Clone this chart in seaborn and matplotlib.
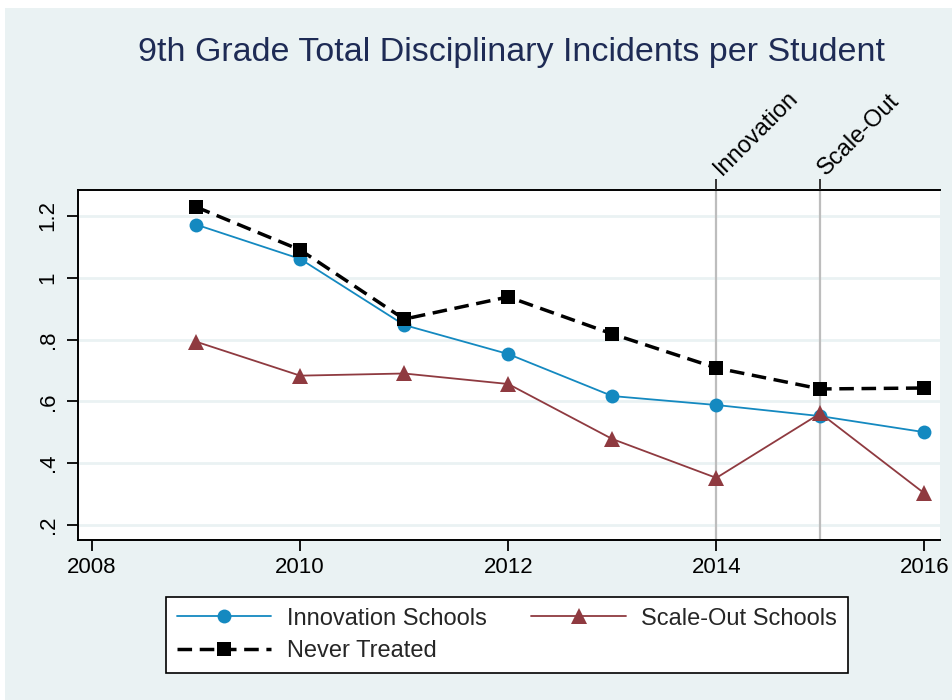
import matplotlib
matplotlib.use("Agg")
import matplotlib.pyplot as plt
import seaborn as sns
import pandas as pd
from matplotlib.patches import Rectangle

# === DATA ===
years = [2009, 2010, 2011, 2012, 2013, 2014, 2015, 2016]
innovation = [1.172, 1.061, 0.847, 0.753, 0.617, 0.588, 0.552, 0.500]
scale_out = [0.793, 0.683, 0.690, 0.656, 0.478, 0.352, 0.561, 0.302]
never_treated = [1.229, 1.090, 0.866, 0.938, 0.818, 0.708, 0.640, 0.643]

event_years = [2014, 2015]
event_labels = ["Innovation", "Scale-Out"]
x_ticks = [2008, 2010, 2012, 2014, 2016]
y_ticks = [0.2, 0.4, 0.6, 0.8, 1.0, 1.2]
y_ticklabels = [".2", ".4", ".6", ".8", "1", "1.2"]

title = "9th Grade Total Disciplinary Incidents per Student"

# === STYLE ===
sns.set_style("white")
plt.rcParams["font.family"] = ["Liberation Sans", "DejaVu Sans"]

panel = "#EAF2F3"
blue = "#1489C0"
red = "#8F3A40"

fig = plt.figure(figsize=(9.52, 7.0), dpi=100)
fig.patch.set_facecolor("white")
bg = Rectangle((5 / 952, 0), 1, 692 / 700, transform=fig.transFigure,
               facecolor=panel, edgecolor="none", zorder=-10)
fig.add_artist(bg)

ax = fig.add_axes([78 / 952, 1 - 540 / 700, (940 - 78) / 952, (540 - 190) / 700])
ax.set_facecolor("white")

df = pd.DataFrame({"year": years, "innov": innovation,
                   "scale": scale_out, "never": never_treated})

# grid lines + event lines
for yv in y_ticks:
    ax.axhline(yv, color=panel, lw=2, zorder=1)
for xv in event_years:
    ax.axvline(xv, color="#BDBDBD", lw=1.6, zorder=1)

sns.lineplot(data=df, x="year", y="innov", ax=ax, color=blue, lw=1.3,
             marker="o", markersize=10, markeredgewidth=0, label="Innovation Schools", zorder=3)
sns.lineplot(data=df, x="year", y="scale", ax=ax, color=red, lw=1.3,
             marker="^", markersize=11, markeredgewidth=0, label="Scale-Out Schools", zorder=4)
sns.lineplot(data=df, x="year", y="never", ax=ax, color="black", lw=2.5,
             linestyle=(0, (4.2, 2.2)), marker="s", markersize=9.5, markeredgewidth=0,
             label="Never Treated", zorder=5)

ax.set_xlim(2007.865, 2016.15)
ax.set_ylim(0.151, 1.284)
ax.set_xticks(x_ticks)
ax.set_yticks(y_ticks)
ax.set_yticklabels(y_ticklabels, rotation=90, va="center")
ax.set_xlabel("")
ax.set_ylabel("")
ax.tick_params(axis="both", direction="out", length=8, width=1.3, labelsize=16,
               color="black", labelcolor="black", pad=4)
ax.tick_params(axis="x", bottom=True)
ax.tick_params(axis="y", left=True, pad=6)

for side in ["left", "bottom", "top"]:
    ax.spines[side].set_visible(True)
    ax.spines[side].set_color("black")
    ax.spines[side].set_linewidth(1.4)
ax.spines["right"].set_visible(False)

# top ticks at the event years, labelled with rotated text
ax2 = ax.twiny()
ax2.set_xlim(ax.get_xlim())
ax2.set_xticks(event_years)
ax2.set_xticklabels([])
ax2.tick_params(axis="x", top=True, direction="out", length=8, width=1.3)
for side in ["left", "bottom", "right", "top"]:
    ax2.spines[side].set_visible(False)

for xv, lab in zip(event_years, event_labels):
    ax.annotate(lab, xy=(xv, 1), xycoords=("data", "axes fraction"),
                xytext=(6, 14), textcoords="offset pixels",
                rotation=45, rotation_mode="anchor", ha="left", va="baseline",
                fontsize=17, color="black", annotation_clip=False)

# legend
handles, labels = ax.get_legend_handles_labels()
ax.get_legend().remove()
order = [0, 2, 1]
leg = fig.legend([handles[i] for i in order], [labels[i] for i in order],
                 ncol=2, loc="center", bbox_to_anchor=(507 / 952, 1 - 635 / 700),
                 frameon=True, fancybox=False, framealpha=1, fontsize=17, handlelength=4.0,
                 columnspacing=1.9, labelspacing=0.45, borderpad=0.45, handletextpad=0.65)
leg.get_frame().set_edgecolor("black")
leg.get_frame().set_linewidth(1.2)
leg.get_frame().set_facecolor("white")

fig.text(512 / 952, 1 - 53 / 700, title, ha="center", va="center",
         fontsize=24.5, color="#1E2B55")

fig.savefig("out.png", dpi=100, facecolor=fig.get_facecolor())
